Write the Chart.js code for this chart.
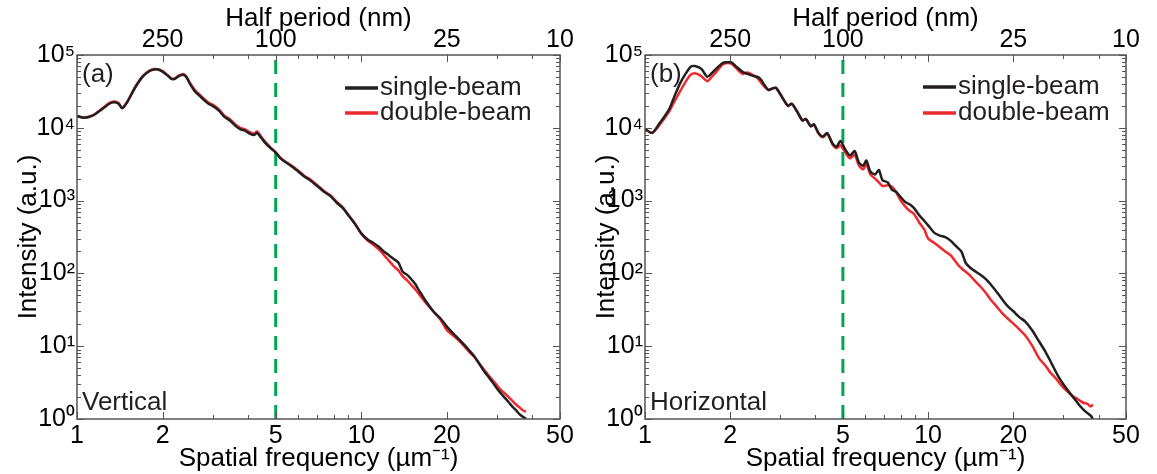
<!DOCTYPE html>
<html><head><meta charset="utf-8">
<script src="https://cdn.jsdelivr.net/npm/chart.js@4.4.1/dist/chart.umd.min.js"></script>
<style>
html,body{margin:0;padding:0;background:#fff;width:1157px;height:474px;overflow:hidden}
.p{position:absolute;top:0;height:474px}
canvas{display:block}
</style></head><body>
<div class="p" style="left:0;width:578px"><canvas id="ca" width="578" height="474" style="width:578px;height:474px"></canvas></div>
<div class="p" style="left:578px;width:579px"><canvas id="cb" width="579" height="474" style="width:579px;height:474px"></canvas></div>
<script>
// ---------- axis ticks / labels ----------
const xTickVals = [1,2,3,4,5,6,7,8,9,10,20,30,40,50];
const xLabelVals = [1,2,5,10,20,50];
const xLabels = ['1','2','5','10','20','50'];
const topLabelVals = [2,5,20,50];
const topLabels = ['250','100','25','10'];
const yTickVals = [1,10,100,1000,10000,100000];
const yTickLabels = ['10\u2070','10\u00b9','10\u00b2','10\u00b3','10\u2074','10\u2075'];
const yMinorMult = [2,3,4,5,6,7,8,9];
const seriesNames = ['single-beam','double-beam'];
const markerFreq = [5,5];
const markerVal = [1,100000];

// ---------- panel (a) Vertical ----------
const freqA = [1,1.05,1.1,1.15,1.2,1.25,1.3,1.35,1.4,1.44,1.5,1.6,1.7,1.8,1.87,1.93,2.0,2.08,2.15,2.2,2.28,2.36,2.42,2.5,2.6,2.7,2.8,2.9,3.0,3.15,3.3,3.45,3.6,3.75,3.9,4.05,4.2,4.3,4.45,4.6,4.8,5.0,5.2,5.4,5.7,6.0,6.3,6.6,7.0,7.4,7.8,8.2,8.6,9.0,9.5,10,10.5,11,11.5,12,12.5,13,13.5,14,14.5,15,15.5,16,17,18,19,20,21,22,23,24,25,26,27,28,29,30,31,32,33,34,35,36,37,38];
const singleA = [14500,13800,14100,15100,17000,19100,21400,22400,21400,18600,22400,35500,50100,60300,63100,63100,58900,52500,46800,46800,51300,53700,50100,39800,31600,27500,24000,21400,20000,17400,14100,12600,10700,9550,9120,8320,7940,8510,7240,6170,5250,4570,3800,3390,2950,2510,2140,1905,1585,1318,1148,933,794,631,479,355,295,263,234,200,178,158,141,105,95.5,83.2,70.8,57.5,39.8,29.5,24.0,18.6,15.1,12.6,10.5,8.71,7.24,5.75,4.57,3.80,3.16,2.63,2.24,1.95,1.70,1.48,1.32,1.17,1.07,1.0];
const doubleA = [14500,13800,14200,15200,17200,19500,22000,23000,22000,18800,22600,36000,51000,61000,64000,63500,60000,53000,47500,47500,52000,55000,51000,41000,33000,28500,25000,22200,20800,18000,14700,13100,11200,10000,9500,8700,8300,8900,7500,6350,5350,4600,3850,3450,3000,2580,2200,1960,1630,1350,1180,960,810,640,480,350,285,250,215,180,150,126,110,91,80,69,60,51,38,29.5,23,16.6,14.1,12.0,10.0,8.3,7.1,5.75,4.8,4.0,3.4,2.9,2.5,2.24,2.0,1.78,1.58,1.45,1.32,1.26];

// ---------- panel (b) Horizontal ----------
const freqBs = [1,1.06,1.12,1.215,1.27,1.33,1.39,1.45,1.5,1.55,1.59,1.66,1.72,1.77,1.88,1.95,2.02,2.1,2.21,2.3,2.42,2.5,2.57,2.65,2.73,2.82,2.9,3.05,3.2,3.3,3.45,3.6,3.7,3.85,3.95,4.1,4.25,4.4,4.6,4.75,4.9,5.1,5.3,5.5,5.7,5.9,6.05,6.25,6.5,6.7,6.9,7.2,7.45,7.7,8.0,8.3,8.6,8.9,9.3,9.7,10.0,10.5,11.0,11.5,12.0,12.5,13.1,13.6,14.4,15.3,16.0,16.7,17.5,18.3,19.1,20.0,21.0,22.0,23.3,24.7,26.0,27.0,28.7,30.0,31.5,33.0,34.4,36.0,37.6,38.2];
const singleB = [9550,8510,11200,17800,27000,40700,55000,69000,70800,67600,63100,50100,56200,63100,77600,79400,79400,69200,58900,55000,51300,50000,45700,38000,33100,34700,35500,26300,20000,21400,16600,12600,13200,10500,11200,8510,7590,8510,6030,5500,6610,5010,4170,4790,3310,3020,3550,2510,2290,2630,1905,1780,1410,1320,1120,955,891,794,631,525,457,363,331,316,282,240,200,138,112,95.5,83.2,69.2,55,43.7,35.5,30.2,25.1,21.9,16.6,11.5,8.32,6.31,3.98,3.02,2.34,1.86,1.51,1.26,1.10,1.0];
const freqBd = [1,1.06,1.12,1.215,1.27,1.33,1.39,1.45,1.5,1.55,1.59,1.66,1.72,1.77,1.88,1.95,2.02,2.1,2.21,2.3,2.42,2.5,2.57,2.65,2.73,2.82,2.9,3.05,3.2,3.3,3.45,3.6,3.7,3.85,3.95,4.1,4.25,4.4,4.6,4.75,4.9,5.1,5.3,5.5,5.7,5.9,6.05,6.25,6.5,6.7,6.9,7.2,7.45,7.7,8.0,8.3,8.6,8.9,9.3,9.7,10.0,10.5,11.0,11.5,12.0,12.8,13.5,14.0,14.6,15.3,16.0,16.7,17.5,18.3,19.1,20.0,21.0,22.0,23.3,24.7,26.0,27.0,28.5,29.6,31.0,32.3,33.5,34.4,35.5,36.5,37.5,38.2];
const doubleB = [9550,8510,10700,16600,22900,31600,42700,53700,56200,53700,50100,43700,50100,56200,74100,77600,75900,66100,55000,57500,52500,47900,41700,36300,33100,34700,35500,26300,20000,21400,16600,12600,13200,10500,11000,8320,7410,8320,5890,5250,5750,4570,3800,4270,3020,2690,3160,2290,2000,1780,1585,1620,1550,1320,1000,832,724,661,501,398,302,263,229,200,178,129,107,95.5,79.4,66.1,53.7,42.7,34.7,28.2,24.0,20.4,17.0,14.1,10.2,6.76,5.37,4.37,3.47,2.88,2.40,2.09,1.91,1.78,1.66,1.62,1.48,1.58];

const FONT = '"Liberation Sans", Arial, Helvetica, sans-serif';
const BLACK = '#231f20', RED = '#ee2a2e', GREEN = '#00a651', FRAME = '#555555';

const pts = (xs, ys) => xs.map((x, i) => ({x: x, y: ys[i]}));

const decorPlugin = {
  id: 'decor',
  afterDraw(chart, args, o) {
    const ctx = chart.ctx, a = chart.chartArea;
    const sx = chart.scales.x, sy = chart.scales.y;
    ctx.save();
    ctx.strokeStyle = FRAME; ctx.lineWidth = 1;
    ctx.beginPath();
    xTickVals.forEach(v => {
      const px = Math.round(sx.getPixelForValue(v)) + 0.5;
      const len = xLabelVals.includes(v) ? 7 : 4;
      ctx.moveTo(px, a.bottom); ctx.lineTo(px, a.bottom - len);
      ctx.moveTo(px, a.top); ctx.lineTo(px, a.top + len);
    });
    yTickVals.forEach((d, k) => {
      const list = [d];
      if (k < yTickVals.length - 1) yMinorMult.forEach(m => list.push(d * m));
      list.forEach(v => {
        const py = Math.round(sy.getPixelForValue(v)) + 0.5;
        const len = v === d ? 7 : 4;
        ctx.moveTo(a.left, py); ctx.lineTo(a.left + len, py);
        ctx.moveTo(a.right, py); ctx.lineTo(a.right - len, py);
      });
    });
    ctx.stroke();
    ctx.lineWidth = 1.5;
    ctx.strokeRect(a.left, a.top, a.right - a.left, a.bottom - a.top);
    ctx.fillStyle = '#231f20';
    ctx.font = '26px ' + FONT;
    ctx.textBaseline = 'middle'; ctx.textAlign = 'left';
    ctx.fillText(o.panel, a.left + 5, a.top + 20);
    ctx.fillText(o.dir, a.left + 5, a.bottom - 16);
    chart.data.datasets.forEach((ds, i) => {
      if (!ds.label) return;
      const y = a.top + o.legY + i * o.legGap;
      const x0 = a.left + o.legX;
      ctx.strokeStyle = ds.borderColor; ctx.lineWidth = 3.5;
      ctx.beginPath(); ctx.moveTo(x0, y); ctx.lineTo(x0 + 33, y); ctx.stroke();
      ctx.fillStyle = '#231f20';
      ctx.fillText(ds.label, x0 + 35, y);
    });
    ctx.restore();
  }
};

function makeChart(id, fs, s, fd, d, opts) {
  const tickFont = {family: FONT, size: 25};
  const titleFont = {family: FONT, size: 26};
  return new Chart(document.getElementById(id), {
    type: 'line',
    data: {
      datasets: [
        {label: seriesNames[0], data: pts(fs, s), borderColor: BLACK, borderWidth: 2.5, pointRadius: 0, tension: 0.25, xAxisID: 'x', yAxisID: 'y'},
        {label: seriesNames[1], data: pts(fd, d), borderColor: RED, borderWidth: 2.5, pointRadius: 0, tension: 0.25, xAxisID: 'x', yAxisID: 'y'},
        {label: '', data: pts(markerFreq, markerVal), borderColor: GREEN, borderWidth: 3, borderDash: [14, 9], pointRadius: 0, xAxisID: 'x', yAxisID: 'y'}
      ]
    },
    options: {
      responsive: false, animation: false, devicePixelRatio: 1,
      layout: {padding: {left: 0, right: opts.padRight, top: 0, bottom: 0}},
      plugins: {legend: {display: false}, tooltip: {enabled: false}, decor: opts},
      scales: {
        x: {
          type: 'logarithmic', position: 'bottom', min: 1, max: 50,
          grid: {display: false, drawTicks: false}, border: {display: false},
          afterBuildTicks: sc => { sc.ticks = xTickVals.map(v => ({value: v})); },
          afterFit: sc => { sc.height = 55; sc.paddingLeft = 0; sc.paddingRight = 0; },
          ticks: {autoSkip: false, maxRotation: 0, padding: 2, color: '#000', font: tickFont,
            callback: v => { const k = xLabelVals.indexOf(v); return k >= 0 ? xLabels[k] : ''; }},
          title: {display: true, text: 'Spatial frequency (\u00b5m\u207b\u00b9)', color: '#000', font: titleFont, padding: {top: 0, bottom: 0}}
        },
        x2: {
          type: 'logarithmic', position: 'top', min: 1, max: 50,
          grid: {display: false, drawTicks: false}, border: {display: false},
          afterBuildTicks: sc => { sc.ticks = xTickVals.map(v => ({value: v})); },
          afterFit: sc => { sc.height = 55; sc.paddingLeft = 0; sc.paddingRight = 0; },
          ticks: {autoSkip: false, maxRotation: 0, padding: 0, color: '#000', font: tickFont,
            callback: v => { const k = topLabelVals.indexOf(v); return k >= 0 ? topLabels[k] : ''; }},
          title: {display: true, text: 'Half period (nm)', color: '#000', font: titleFont, padding: {top: 3, bottom: 0}}
        },
        y: {
          type: 'logarithmic', position: 'left', min: 1, max: 100000,
          grid: {display: false, drawTicks: false}, border: {display: false},
          afterBuildTicks: sc => { sc.ticks = yTickVals.map(v => ({value: v})); },
          afterFit: sc => { sc.width = opts.yWidth; sc.paddingTop = 0; sc.paddingBottom = 0; },
          ticks: {autoSkip: false, padding: 2, color: '#000', font: tickFont,
            callback: v => { const k = yTickVals.indexOf(v); return k >= 0 ? yTickLabels[k] : ''; }},
          title: {display: true, text: 'Intensity (a.u.)', color: '#000', font: titleFont, padding: {top: 13, bottom: 0}}
        }
      }
    },
    plugins: [decorPlugin]
  });
}

makeChart('ca', freqA, singleA, freqA, doubleA, {panel: '(a)', dir: 'Vertical', yWidth: 77, padRight: 18, legX: 268, legY: 33, legGap: 25});
makeChart('cb', freqBs, singleB, freqBd, doubleB, {panel: '(b)', dir: 'Horizontal', yWidth: 67, padRight: 31, legX: 278, legY: 32, legGap: 26});
</script>
</body></html>
